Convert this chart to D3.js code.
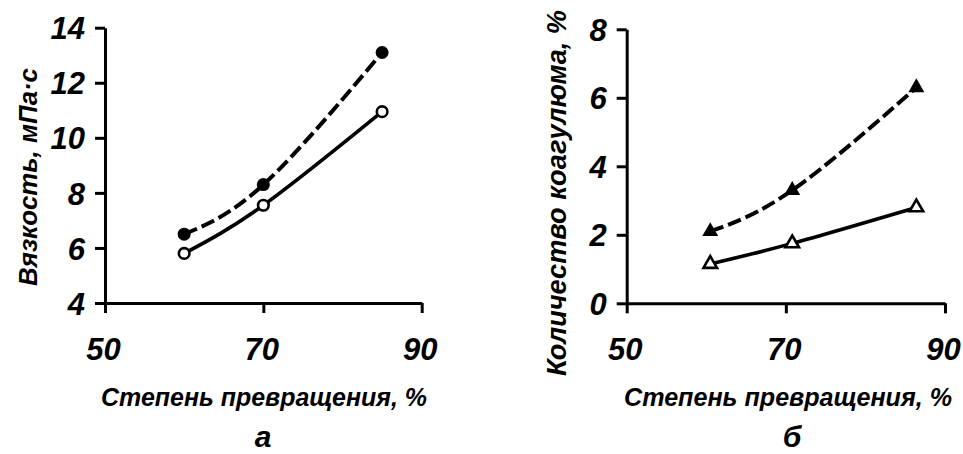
<!DOCTYPE html>
<html><head><meta charset="utf-8">
<script src="https://cdn.jsdelivr.net/npm/d3@7"></script>
<style>
html,body{margin:0;padding:0;background:#fff;}
text{font-family:"Liberation Sans",Arial,sans-serif;font-weight:bold;font-style:italic;fill:#000;}
</style></head>
<body>
<svg id="chart" width="963" height="454"></svg>
<script>
// Panel a: viscosity
const xTicks = [50, 70, 90];
const aYTicks = [4, 6, 8, 10, 12, 14];
const aX = [60, 70, 85];
const aFilled = [6.5, 8.3, 13.1];   // dashed, filled circles
const aOpen = [5.8, 7.55, 10.95];   // solid, open circles
// Panel б: coagulum
const bYTicks = [0, 2, 4, 6, 8];
const bX = [60.5, 70.8, 86.4];
const bFilled = [2.1, 3.3, 6.3];    // dashed, filled triangles
const bOpen = [1.15, 1.75, 2.8];    // solid, open triangles

const xTitle = "Степень превращения, %";
const aYTitle = "Вязкость, мПа·с";
const bYTitle = "Количество коагулюма, %";

const svg = d3.select("#chart");
svg.append("rect").attr("width",963).attr("height",454).attr("fill","#fff");

function fitText(sel, target, base){
  sel.style("font-size", base+"px");
  const len = sel.node().getComputedTextLength();
  const fs = Math.min(base*1.2, base*target/len);
  sel.style("font-size", fs.toFixed(2)+"px");
}

function panel(cfg){
  const x = d3.scaleLinear().domain([50,90]).range(cfg.xr);
  const y = d3.scaleLinear().domain(cfg.yd).range(cfg.yr);
  const g = svg.append("g");
  const xa = g.append("g").attr("transform",`translate(0,${cfg.yr[0]})`)
    .call(d3.axisBottom(x).tickValues(xTicks).tickSize(10).tickSizeOuter(0).tickFormat(d3.format("d")));
  const ya = g.append("g").attr("transform",`translate(${cfg.xr[0]},0)`)
    .call(d3.axisLeft(y).tickValues(cfg.yTicks).tickSize(10).tickSizeOuter(0).tickFormat(d3.format("d")));
  [xa, ya].forEach(a=>{
    a.selectAll("path.domain").attr("stroke","#000").attr("stroke-width",3);
    a.selectAll(".tick line").attr("stroke","#000").attr("stroke-width",3);
    a.selectAll("text").style("font-size","31px").attr("fill","#000");
  });
  xa.selectAll("text").attr("y",57).attr("dy",0).attr("dx",-2);
  ya.selectAll("text").attr("x",-20).attr("dy","0.36em");

  const line = d3.line().x(d=>x(d[0])).y(d=>y(d[1])).curve(d3.curveNatural);
  const dashedPts = cfg.xs.map((v,i)=>[v,cfg.filled[i]]);
  const solidPts = cfg.xs.map((v,i)=>[v,cfg.open[i]]);
  g.append("path").datum(dashedPts).attr("d",line).attr("fill","none")
    .attr("stroke","#000").attr("stroke-width",4).attr("stroke-dasharray","14,5");
  g.append("path").datum(solidPts).attr("d",line).attr("fill","none")
    .attr("stroke","#000").attr("stroke-width",3.6);

  if(cfg.marker==="circle"){
    g.selectAll(".fc").data(dashedPts).join("circle")
      .attr("cx",d=>x(d[0])).attr("cy",d=>y(d[1])).attr("r",6.5).attr("fill","#000");
    g.selectAll(".oc").data(solidPts).join("circle")
      .attr("cx",d=>x(d[0])).attr("cy",d=>y(d[1])).attr("r",5.3)
      .attr("fill","#fff").attr("stroke","#000").attr("stroke-width",2.6);
  } else {
    g.selectAll(".ft").data(dashedPts).join("path")
      .attr("d",d3.symbol().type(d3.symbolTriangle).size(110)())
      .attr("transform",d=>`translate(${x(d[0])},${y(d[1])})`)
      .attr("fill","#000");
    g.selectAll(".ot").data(solidPts).join("path")
      .attr("d",d3.symbol().type(d3.symbolTriangle).size(80)())
      .attr("transform",d=>`translate(${x(d[0])},${y(d[1])})`)
      .attr("fill","#fff").attr("stroke","#000").attr("stroke-width",2.6);
  }

  // axis titles
  const xt = g.append("text").attr("x",cfg.xTitleX).attr("y",406).attr("text-anchor","middle").text(xTitle);
  fitText(xt, cfg.xTitleLen, 30);
  const yt = g.append("text").attr("transform",`translate(${cfg.yTitleX},${cfg.yTitleY}) rotate(-90)`)
    .attr("text-anchor","middle").text(cfg.yTitle);
  fitText(yt, cfg.yTitleLen, 30);
  g.append("text").attr("x",cfg.letterX).attr("y",447).attr("text-anchor","middle")
    .style("font-size","30px").text(cfg.letter);
}

panel({xr:[105,421.7], yd:[4,14], yr:[303,27.7], yTicks:aYTicks, xs:aX, filled:aFilled, open:aOpen,
  marker:"circle", xTitleX:264, xTitleLen:326, yTitleX:37, yTitleY:177, yTitleLen:218, yTitle:aYTitle,
  letterX:263, letter:"а"});
panel({xr:[626.7,945], yd:[0,8], yr:[303.3,29.3], yTicks:bYTicks, xs:bX, filled:bFilled, open:bOpen,
  marker:"triangle", xTitleX:788, xTitleLen:328, yTitleX:566, yTitleY:193, yTitleLen:366, yTitle:bYTitle,
  letterX:792, letter:"б"});
</script>
</body></html>
